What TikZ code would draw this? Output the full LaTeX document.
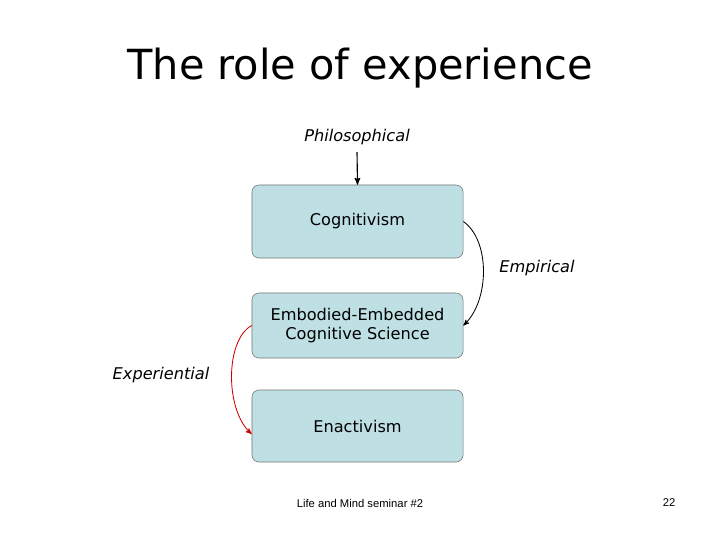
\documentclass[tikz,border=0pt]{standalone}
\usepackage{fontspec}
\setmainfont{DejaVu Sans}
\newfontfamily\footfont{Liberation Sans}
\usetikzlibrary{arrows}
\definecolor{boxfill}{RGB}{190,224,228}
\begin{document}
\begin{tikzpicture}[x=0.025cm,y=-0.025cm,>=stealth',font=\fontsize{11.5}{14}\selectfont]
  \tikzstyle{stage}=[rectangle,rounded corners=5pt,draw=black!55,fill=boxfill,
  			 minimum width=5.275cm,align=center]
  \tikzstyle{tag}=[font=\fontsize{11.5}{14}\selectfont\itshape]
  \useasboundingbox (0,0) rectangle (720,540);
  \node (title) at (360,68) {\fontsize{29.5}{34}\selectfont The role of experience};
  \node [tag] (phil) at (357,137) {Philosophical};
  \node [stage,minimum height=1.825cm] (cog) at (357.5,221.5) {Cognitivism};
  \node [stage,minimum height=1.625cm] (emb) at (357.5,325.5) {Embodied-Embedded\\Cognitive Science};
  \node [stage,minimum height=1.8cm] (ena) at (357.5,426) {Enactivism};
  \node [tag] (emp) at (537,268) {Empirical};
  \node [tag] (exp) at (161,375) {Experiential};
  \coordinate (philend) at (357,152);
  \draw [->,thick] (philend) -- (cog.north);
  \draw [->,semithick] (cog.east) .. controls (490,240) and (490,300) .. (emb.east);
  \draw [->,semithick,red!80!black] (emb.west) .. controls (225,340) and (225,410) .. ([yshift=-0.2cm]ena.west);
  \node [font=\footfont\footnotesize] (foot) at (360,503) {Life and Mind seminar \#2};
  \node [font=\footfont\footnotesize] (page) at (669,503) {22};
\end{tikzpicture}
\end{document}
